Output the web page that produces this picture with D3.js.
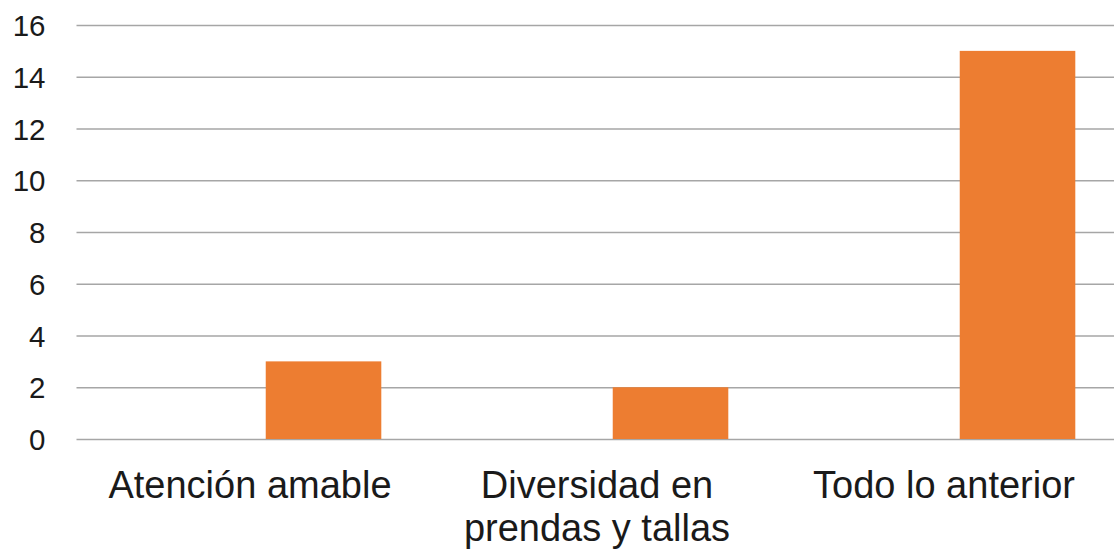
<!DOCTYPE html>
<html><head><meta charset="utf-8">
<script src="https://cdn.jsdelivr.net/npm/d3@7"></script>
<style>html,body{margin:0;padding:0;background:#fff;}svg{display:block;}</style>
</head><body>
<svg id="chart" width="1114" height="558"></svg>
<script>
const categories = [["Atención amable"], ["Diversidad en", "prendas y tallas"], ["Todo lo anterior"]];
const categoryKeys = ["Atención amable", "Diversidad en prendas y tallas", "Todo lo anterior"];
const seriesNames = ["Serie 1", "Serie 2"];
const series1 = [0, 0, 0];
const series2 = [3, 2, 15];
const yTicks = [0, 2, 4, 6, 8, 10, 12, 14, 16];

(function() {
const svg = d3.select("#chart");
const mLeft = 76.5, mRight = 1114, mTop = 25, mBottom = 439;

const x0 = d3.scaleBand().domain(categoryKeys).range([mLeft, mLeft + 3 * 347]);
const x1 = d3.scaleBand().domain(seriesNames).range([0, x0.bandwidth()]).paddingInner(0.214).paddingOuter(0.287);
const y = d3.scaleLinear().domain([0, 16]).range([mBottom, mTop]);

// gridlines
const yAxis = d3.axisLeft(y).tickValues(yTicks).tickSize(-(mRight - mLeft)).tickPadding(31);
const gy = svg.append("g").attr("transform", `translate(${mLeft},0)`).call(yAxis);
gy.select(".domain").remove();
gy.selectAll(".tick line").attr("stroke", "#a6a6a6").attr("stroke-width", 1.5);
gy.selectAll(".tick text").attr("font-family", "Liberation Sans, Arial, sans-serif")
  .attr("font-size", 29.5).attr("fill", "#1a1a1a").attr("dy", "0.36em");

// bars
const data = categoryKeys.map((c, i) => ({cat: c, values: [series1[i], series2[i]]}));
const colors = ["#4472C4", "#ED7D31"];
const groups = svg.append("g").selectAll("g").data(data).join("g")
  .attr("transform", d => `translate(${x0(d.cat)},0)`);
groups.selectAll("rect").data(d => d.values.map((v, j) => ({s: seriesNames[j], v, j})))
  .join("rect")
  .attr("x", d => x1(d.s)).attr("width", x1.bandwidth())
  .attr("y", d => y(d.v)).attr("height", d => y(0) - y(d.v))
  .attr("fill", d => colors[d.j]);

// category labels
const lab = svg.append("g").selectAll("text").data(categoryKeys).join("text")
  .attr("x", d => x0(d) + x0.bandwidth() / 2)
  .attr("y", 498)
  .attr("text-anchor", "middle")
  .attr("font-family", "Liberation Sans, Arial, sans-serif")
  .attr("font-size", 38).attr("fill", "#1a1a1a");
lab.each(function(d, i) {
  const t = d3.select(this);
  categories[i].forEach((line, k) => {
    t.append("tspan").attr("x", x0(d) + x0.bandwidth() / 2).attr("dy", k === 0 ? 0 : 43).text(line);
  });
});
})();
</script>
</body></html>
